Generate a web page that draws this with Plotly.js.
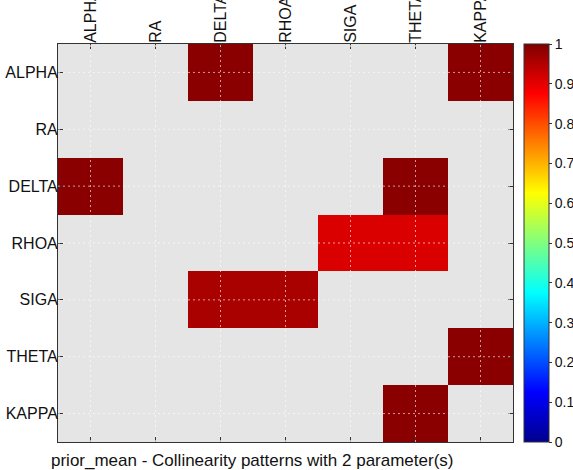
<!DOCTYPE html>
<html>
<head>
<meta charset="utf-8">
<script src="https://cdn.plot.ly/plotly-3.0.1.min.js"></script>
<style>html,body{margin:0;padding:0;background:#ffffff;} #chart{width:573px;height:470px;}</style>
</head>
<body>
<div id="chart"></div>
<script>
// Parameter names (both axes)
const params = ['ALPHA', 'RA', 'DELTA', 'RHOA', 'SIGA', 'THETA', 'KAPPA'];
// Collinearity values per row (null = no pattern)
const rowALPHA = [null, null, 0.99, null, null, null, 0.99];
const rowRA    = [null, null, null, null, null, null, null];
const rowDELTA = [0.99, null, null, null, null, 0.99, null];
const rowRHOA  = [null, null, null, null, 0.91, 0.91, null];
const rowSIGA  = [null, null, 0.96, 0.96, null, null, null];
const rowTHETA = [null, null, null, null, null, null, 0.99];
const rowKAPPA = [null, null, null, null, null, 0.99, null];
const cbTicks = [0, 0.1, 0.2, 0.3, 0.4, 0.5, 0.6, 0.7, 0.8, 0.9, 1];
const titleText = 'prior_mean - Collinearity patterns with 2 parameter(s)';

const z = [rowALPHA, rowRA, rowDELTA, rowRHOA, rowSIGA, rowTHETA, rowKAPPA];

const jet = [
  [0, 'rgb(0,0,143)'],
  [0.125, 'rgb(0,0,255)'],
  [0.375, 'rgb(0,255,255)'],
  [0.625, 'rgb(255,255,0)'],
  [0.875, 'rgb(255,0,0)'],
  [1, 'rgb(128,0,0)']
];

const font = {family: '"Liberation Sans", Arial, sans-serif', color: '#111'};

const trace = {
  type: 'heatmap',
  x: params,
  y: params,
  z: z,
  zmin: 0,
  zmax: 1,
  colorscale: jet,
  hoverongaps: false,
  colorbar: {
    x: 1.024, xanchor: 'left', xref: 'paper',
    y: 0.5, yanchor: 'middle', len: 1, lenmode: 'fraction',
    thickness: 25, thicknessmode: 'pixels',
    outlinewidth: 1, outlinecolor: '#333',
    tickvals: cbTicks, ticktext: cbTicks.map(String),
    ticks: 'outside', ticklen: 3, tickcolor: '#333',
    tickfont: {family: font.family, size: 14, color: '#111'},
    xpad: 0, ypad: 0
  }
};

const shapes = [];
params.forEach((p, i) => {
  shapes.push({type: 'line', layer: 'above', xref: 'x', yref: 'paper', x0: i, x1: i, y0: 0, y1: 1,
    line: {color: 'rgba(255,255,255,0.6)', width: 1, dash: '2px,3px'}});
  shapes.push({type: 'line', layer: 'above', xref: 'paper', yref: 'y', x0: 0, x1: 1, y0: i, y1: i,
    line: {color: 'rgba(255,255,255,0.6)', width: 1, dash: '2px,3px'}});
});

const layout = {
  width: 573, height: 470,
  margin: {l: 58, r: 60, t: 44, b: 28, pad: 0, autoexpand: false},
  paper_bgcolor: '#ffffff',
  plot_bgcolor: '#e5e5e5',
  font: font,
  showlegend: false,
  xaxis: {
    side: 'top', type: 'category',
    tickangle: -90,
    ticks: 'inside', ticklen: 5, tickcolor: '#333',
    showline: true, linecolor: '#333', linewidth: 1, mirror: 'ticks',
    showgrid: false, zeroline: false,
    tickfont: {family: font.family, size: 16, color: '#111'},
    range: [-0.5, params.length - 0.5],
    ticklabelstandoff: -3,
    automargin: false
  },
  yaxis: {
    type: 'category',
    autorange: 'reversed',
    ticks: 'inside', ticklen: 5, tickcolor: '#333',
    showline: true, linecolor: '#333', linewidth: 1, mirror: 'ticks',
    showgrid: false, zeroline: false,
    tickfont: {family: font.family, size: 16, color: '#111'},
    ticklabelstandoff: -4,
    automargin: false
  },
  shapes: shapes,
  annotations: [{
    text: titleText, xref: 'paper', yref: 'paper',
    x: 0.427, y: -18/398, xanchor: 'center', yanchor: 'middle',
    showarrow: false, font: {family: font.family, size: 17, color: '#111'}
  }]
};

Plotly.newPlot('chart', [trace], layout, {displayModeBar: false, staticPlot: true});
</script>
</body>
</html>
